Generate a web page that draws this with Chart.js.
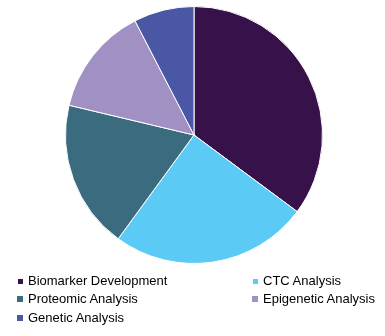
<!DOCTYPE html>
<html>
<head>
<meta charset="utf-8">
<script src="https://cdn.jsdelivr.net/npm/chart.js@4/dist/chart.umd.min.js"></script>
<style>
    html, body { margin: 0; padding: 0; background: #fff; }
    #wrap { position: relative; width: 385px; height: 336px; overflow: hidden; }
    #pie-box { position: absolute; left: 65px; top: 6px; width: 258px; height: 258px; }
    #legend { position: absolute; left: 0; top: 0; width: 385px; height: 336px; pointer-events: none; }
    .item { position: absolute; font-family: "Liberation Sans", Arial, sans-serif; font-size: 13px; color: #000; line-height: 15px; white-space: nowrap; }
    .swatch { position: absolute; }
</style>
</head>
<body>
<div id="wrap">
    <div id="pie-box"><canvas id="pieChart"></canvas></div>
    <div id="legend"></div>
</div>
<script>
const segments = ["Biomarker Development", "CTC Analysis", "Proteomic Analysis", "Epigenetic Analysis", "Genetic Analysis"];
const shares = [35.2, 24.9, 18.7, 13.7, 7.6];
const sliceColors = ["#36114a", "#5bcbf5", "#3a6b7e", "#a190c4", "#4a57a4"];

// legend: two columns, three rows (drawn as html)
const legendCols = [17, 252];
const legendRows = [281, 299, 318];

function buildLegend() {
    const legend = document.getElementById("legend");
    legend.innerHTML = segments.map((name, i) => {
        const col = legendCols[i % 2];
        const row = legendRows[Math.floor(i / 2)];
        const size = i < 2 ? 5 : 6;
        return `
            <div class="swatch" style="left:${col + (6 - size) / 2}px; top:${row - size / 2}px; width:${size}px; height:${size}px; background:${sliceColors[i]}"></div>
            <div class="item" style="left:${col + 11}px; top:${row - 8}px">${name}</div>
        `;
    }).join("");
}

new Chart(document.getElementById("pieChart"), {
    type: 'pie',
    data: {
        labels: segments,
        datasets: [{
            data: shares,
            backgroundColor: sliceColors,
            borderColor: '#fff',
            borderWidth: 1
        }]
    },
    options: {
        responsive: true,
        maintainAspectRatio: false,
        animation: false,
        layout: { padding: 0 },
        plugins: {
            legend: { display: false },
            tooltip: { enabled: false }
        }
    }
});

buildLegend();
</script>
</body>
</html>
